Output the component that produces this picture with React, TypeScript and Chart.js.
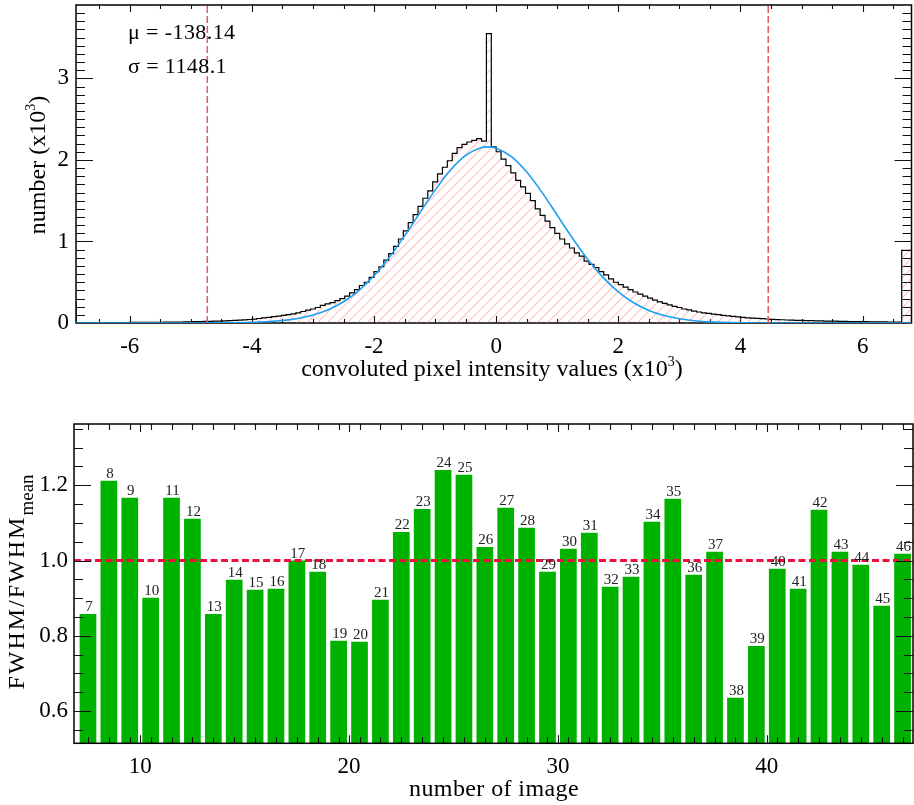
import React, { useEffect, useRef } from "react";
import { Chart, registerables } from "chart.js";
Chart.register(...registerables);

const FONT = "'Liberation Serif', 'Times New Roman', serif";

// ---------- Top panel: histogram of convoluted pixel intensities (x10^3) ----------
const histBinStart = -6.88;
const histBinWidth = 0.08;
const histCounts = [
  0.26, 0.004, 0.004, 0.004, 0.005, 0.005, 0.005, 0.005, 0.006, 0.006, 0.006,
  0.006, 0.007, 0.007, 0.007, 0.008, 0.008, 0.009, 0.009, 0.010, 0.011,
  0.011, 0.012, 0.013, 0.014, 0.016, 0.017, 0.019, 0.020, 0.022, 0.024,
  0.026, 0.029, 0.032, 0.035, 0.039, 0.043, 0.048, 0.055, 0.063, 0.070,
  0.077, 0.085, 0.093, 0.102, 0.113, 0.125, 0.141, 0.157, 0.172, 0.19,
  0.215, 0.235, 0.25, 0.275, 0.30, 0.33, 0.37, 0.41, 0.46, 0.50,
  0.56, 0.63, 0.69, 0.77, 0.85, 0.94, 1.03, 1.13, 1.23, 1.33,
  1.43, 1.53, 1.62, 1.73, 1.83, 1.91, 1.99, 2.08, 2.15, 2.19,
  2.22, 2.24, 2.26, 2.23, 3.55, 2.16, 2.10, 2.01, 1.93, 1.84,
  1.75, 1.67, 1.59, 1.50, 1.40, 1.32, 1.25, 1.17, 1.10, 1.03,
  0.97, 0.92, 0.86, 0.82, 0.76, 0.72, 0.68, 0.63, 0.59, 0.54,
  0.50, 0.47, 0.44, 0.41, 0.38, 0.355, 0.33, 0.305, 0.28, 0.26,
  0.24, 0.222, 0.205, 0.19, 0.172, 0.16, 0.146, 0.135, 0.125, 0.118,
  0.11, 0.102, 0.094, 0.087, 0.081, 0.075, 0.069, 0.064, 0.060, 0.056,
  0.053, 0.049, 0.045, 0.042, 0.040, 0.037, 0.035, 0.033, 0.031, 0.029,
  0.028, 0.027, 0.025, 0.024, 0.023, 0.022, 0.021, 0.020, 0.018, 0.017,
  0.017, 0.016, 0.015, 0.014, 0.013, 0.013, 0.012, 0.011, 0.011, 0.89,
];
const gaussX = [
  -6.88, -6, -5, -4.5, -4, -3.5, -3.25, -3, -2.75, -2.5, -2.25, -2, -1.75, -1.5,
  -1.25, -1, -0.75, -0.5, -0.25, -0.14, 0, 0.25, 0.5, 0.75, 1, 1.25, 1.5, 1.75,
  2, 2.25, 2.5, 2.75, 3, 3.25, 3.5, 4, 4.5, 5, 6, 6.8,
];
const gaussY = [
  0, 0, 0.0003, 0.0016, 0.0075, 0.030, 0.055, 0.097, 0.162, 0.260, 0.398, 0.580, 0.806, 1.069,
  1.351, 1.630, 1.874, 2.055, 2.150, 2.160, 2.144, 2.040, 1.851, 1.602, 1.321, 1.040, 0.780, 0.559,
  0.381, 0.248, 0.154, 0.091, 0.052, 0.028, 0.014, 0.0033, 0.0006, 0.0001, 0, 0,
];
const fitMeanLabel = "μ = -138.14";
const fitSigmaLabel = "σ = 1148.1";
const cutLines = [-4.73, 4.454];
const histXRange = [-6.88, 6.80];
const histYRange = [0, 3.9];
const histXMajor = [-6, -4, -2, 0, 2, 4, 6];
const histYMajor = [0, 1, 2, 3];

// ---------- Bottom panel: FWHM / FWHM_mean per image ----------
const imageNumbers = [
  7, 8, 9, 10, 11, 12, 13, 14, 15, 16, 17, 18, 19, 20, 21, 22, 23, 24, 25, 26,
  27, 28, 29, 30, 31, 32, 33, 34, 35, 36, 37, 38, 39, 40, 41, 42, 43, 44, 45, 46,
];
const fwhmRatio = [
  0.858, 1.212, 1.167, 0.901, 1.167, 1.111, 0.858, 0.949, 0.922, 0.925, 1.000, 0.970, 0.787, 0.784, 0.896, 1.076, 1.137, 1.241, 1.228, 1.036,
  1.140, 1.087, 0.970, 1.031, 1.074, 0.930, 0.957, 1.103, 1.164, 0.962, 1.023, 0.635, 0.773, 0.978, 0.925, 1.135, 1.023, 0.989, 0.880, 1.018,
];
const meanLevel = 1.0;
const barXRange = [6.83, 47.0];
const barYRange = [0.514, 1.363];
const barXMajor = [10, 20, 30, 40];
const barYMajor = [0.6, 0.8, 1.0, 1.2];

function range(from: number, to: number, step: number) {
  const out: number[] = [];
  for (let v = from; v <= to + 1e-9; v += step) out.push(Math.round(v * 1000) / 1000);
  return out;
}

function makeHatch() {
  const c = document.createElement("canvas");
  c.width = 10;
  c.height = 10;
  const g = c.getContext("2d")!;
  g.strokeStyle = "rgba(255,110,110,0.42)";
  g.lineWidth = 1.1;
  g.beginPath();
  g.moveTo(-1, 11);
  g.lineTo(11, -1);
  g.moveTo(-1, 1);
  g.lineTo(1, -1);
  g.moveTo(9, 11);
  g.lineTo(11, 9);
  g.stroke();
  return g.createPattern(c, "repeat");
}

type TickCfg = {
  hook: "beforeDatasetsDraw" | "afterDatasetsDraw";
  xMajor: number[];
  xMinor: number[];
  yMajor: number[];
  yMinor: number[];
  xMajorLen: number;
  xMinorLen: number;
  yMajorLen: number;
  yMinorLen: number;
};

function frameTicksPlugin(cfg: TickCfg) {
  const draw = (chart: any) => {
    const { ctx, chartArea: a, scales } = chart;
    const xs = scales.x;
    const ys = scales.y;
    ctx.save();
    ctx.strokeStyle = "#111";
    ctx.lineWidth = 1.1;
    ctx.beginPath();
    const xt = (vals: number[], len: number) => {
      for (const v of vals) {
        const p = Math.round(xs.getPixelForValue(v)) + 0.5;
        if (p < a.left || p > a.right) continue;
        ctx.moveTo(p, a.bottom);
        ctx.lineTo(p, a.bottom - len);
        ctx.moveTo(p, a.top);
        ctx.lineTo(p, a.top + len);
      }
    };
    const yt = (vals: number[], len: number) => {
      for (const v of vals) {
        const p = Math.round(ys.getPixelForValue(v)) + 0.5;
        if (p < a.top || p > a.bottom) continue;
        ctx.moveTo(a.left, p);
        ctx.lineTo(a.left + len, p);
        ctx.moveTo(a.right, p);
        ctx.lineTo(a.right - len, p);
      }
    };
    xt(cfg.xMajor, cfg.xMajorLen);
    xt(cfg.xMinor, cfg.xMinorLen);
    yt(cfg.yMajor, cfg.yMajorLen);
    yt(cfg.yMinor, cfg.yMinorLen);
    ctx.stroke();
    ctx.lineWidth = 1.5;
    ctx.strokeStyle = "#000";
    ctx.strokeRect(a.left, a.top, a.right - a.left, a.bottom - a.top);
    ctx.restore();
  };
  return { id: "frameTicks", [cfg.hook]: draw } as any;
}

type Part = { t: string; size: number; dy: number; ls?: number };

function drawParts(ctx: CanvasRenderingContext2D, parts: Part[], cx: number, baseY: number, align: "center" | "left") {
  const c: any = ctx;
  let total = 0;
  for (const p of parts) {
    ctx.font = `${p.size}px ${FONT}`;
    c.letterSpacing = `${p.ls || 0}px`;
    total += ctx.measureText(p.t).width;
  }
  let x = align === "center" ? cx - total / 2 : cx;
  ctx.textAlign = "left";
  ctx.textBaseline = "alphabetic";
  for (const p of parts) {
    ctx.font = `${p.size}px ${FONT}`;
    c.letterSpacing = `${p.ls || 0}px`;
    ctx.fillText(p.t, x, baseY + p.dy);
    x += ctx.measureText(p.t).width;
  }
  c.letterSpacing = "0px";
}

function fixY(width: number) {
  return (s: any) => {
    s.width = width;
    s.paddingTop = 0;
    s.paddingBottom = 0;
  };
}
function fixX(height: number) {
  return (s: any) => {
    s.height = height;
    s.paddingLeft = 0;
    s.paddingRight = 0;
  };
}

export default function App() {
  const topRef = useRef<HTMLCanvasElement>(null);
  const botRef = useRef<HTMLCanvasElement>(null);

  useEffect(() => {
    const charts: Chart[] = [];
    const hatch = makeHatch();

    // ----- top chart -----
    const histPoints = histCounts.map((v, i) => ({ x: histBinStart + i * histBinWidth, y: v }));
    histPoints.push({ x: histBinStart + histCounts.length * histBinWidth, y: histCounts[histCounts.length - 1] });

    const topTitles = {
      id: "topTitles",
      afterDraw(chart: any) {
        const ctx = chart.ctx as CanvasRenderingContext2D;
        ctx.save();
        ctx.fillStyle = "#000";
        drawParts(ctx, [
          { t: "convoluted pixel intensity values (x10", size: 24, dy: 0 },
          { t: "3", size: 14, dy: -10 },
          { t: ")", size: 24, dy: 0 },
        ], 492, 376, "center");
        ctx.save();
        ctx.translate(45, 165);
        ctx.rotate(-Math.PI / 2);
        drawParts(ctx, [
          { t: "number (x10", size: 24, dy: 0 },
          { t: "3", size: 14, dy: -10 },
          { t: ")", size: 24, dy: 0 },
        ], 0, 0, "center");
        ctx.restore();
        drawParts(ctx, [{ t: fitMeanLabel, size: 22, dy: 0, ls: 0.4 }], 128, 39, "left");
        drawParts(ctx, [{ t: fitSigmaLabel, size: 22, dy: 0, ls: 0.4 }], 128, 72.5, "left");
        ctx.restore();
      },
    };

    const tickFont = { family: FONT, size: 23 };

    if (topRef.current) {
      charts.push(
        new Chart(topRef.current, {
          type: "line",
          data: {
            datasets: [
              ...cutLines.map((c) => ({
                data: [{ x: c, y: histYRange[0] }, { x: c, y: histYRange[1] }],
                borderColor: "#f0545c",
                borderWidth: 1.5,
                borderDash: [7, 3],
                pointRadius: 0,
                fill: false,
                order: 0,
              })),
              {
                data: gaussX.map((x, i) => ({ x, y: gaussY[i] })),
                borderColor: "#1e9ef2",
                borderWidth: 1.6,
                cubicInterpolationMode: "monotone",
                pointRadius: 0,
                fill: false,
                order: 1,
              },
              {
                data: histPoints,
                stepped: "after",
                borderColor: "#000",
                borderWidth: 1.2,
                backgroundColor: hatch as any,
                fill: "origin",
                pointRadius: 0,
                order: 2,
              },
            ] as any,
          },
          options: {
            animation: false,
            responsive: false,
            devicePixelRatio: 1,
            events: [],
            layout: { padding: { left: 0, top: 5, right: 2.5, bottom: 0 } },
            plugins: { legend: { display: false }, tooltip: { enabled: false } },
            scales: {
              x: {
                type: "linear",
                min: histXRange[0],
                max: histXRange[1],
                grid: { display: false, drawTicks: false },
                border: { display: false },
                ticks: {
                  stepSize: 2,
                  includeBounds: false,
                  autoSkip: false,
                  maxRotation: 0,
                  padding: 10,
                  color: "#000",
                  font: tickFont,
                  callback: (v: any) => String(v),
                },
                afterFit: fixX(62),
              },
              y: {
                type: "linear",
                min: histYRange[0],
                max: histYRange[1],
                grid: { display: false, drawTicks: false },
                border: { display: false },
                ticks: {
                  stepSize: 1,
                  includeBounds: false,
                  padding: 7,
                  color: "#000",
                  font: tickFont,
                  callback: (v: any) => String(v),
                },
                afterFit: fixY(76),
              },
            },
          } as any,
          plugins: [
            frameTicksPlugin({
              hook: "beforeDatasetsDraw",
              xMajor: histXMajor,
              xMinor: range(-6.5, 6.5, 0.5).filter((v) => !histXMajor.includes(v)),
              yMajor: histYMajor,
              yMinor: range(0.1, 3.8, 0.1).filter((v) => Math.abs(v - Math.round(v)) > 1e-6),
              xMajorLen: 7,
              xMinorLen: 4,
              yMajorLen: 17,
              yMinorLen: 9,
            }),
            topTitles,
          ],
        })
      );
    }

    // ----- bottom chart -----
    const barCenters = imageNumbers.map((n) => n + 0.5);
    const barLabels = {
      id: "barLabels",
      afterDatasetsDraw(chart: any) {
        const ctx = chart.ctx as CanvasRenderingContext2D;
        const meta = chart.getDatasetMeta(1);
        ctx.save();
        ctx.fillStyle = "#222";
        ctx.font = `15px ${FONT}`;
        ctx.textAlign = "center";
        ctx.textBaseline = "alphabetic";
        meta.data.forEach((el: any, i: number) => {
          ctx.fillText(String(imageNumbers[i]), el.x + 1, el.y - 3);
        });
        ctx.restore();
      },
    };
    const botTitles = {
      id: "botTitles",
      afterDraw(chart: any) {
        const ctx = chart.ctx as CanvasRenderingContext2D;
        ctx.save();
        ctx.fillStyle = "#000";
        drawParts(ctx, [{ t: "number of image", size: 24, dy: 0, ls: 0.4 }], 494, 411, "center");
        ctx.save();
        ctx.translate(24, 197);
        ctx.rotate(-Math.PI / 2);
        drawParts(ctx, [
          { t: "FWHM/FWHM", size: 24, dy: 0, ls: 2 },
          { t: "mean", size: 19, dy: 9 },
        ], 0, 0, "center");
        ctx.restore();
        ctx.restore();
      },
    };

    if (botRef.current) {
      charts.push(
        new Chart(botRef.current, {
          type: "bar",
          data: {
            datasets: [
              {
                type: "line",
                data: [{ x: barXRange[0], y: meanLevel }, { x: barXRange[1], y: meanLevel }],
                borderColor: "#ec1040",
                borderWidth: 3,
                borderDash: [7, 3.5],
                pointRadius: 0,
                fill: false,
                order: 0,
              },
              {
                type: "bar",
                data: barCenters.map((x, i) => ({ x, y: fwhmRatio[i] })),
                backgroundColor: "#00b200",
                borderWidth: 0,
                barPercentage: 0.8,
                categoryPercentage: 1,
                order: 1,
              },
            ] as any,
          },
          options: {
            animation: false,
            responsive: false,
            devicePixelRatio: 1,
            events: [],
            layout: { padding: { left: 0, top: 39, right: 1, bottom: 0 } },
            plugins: { legend: { display: false }, tooltip: { enabled: false } },
            scales: {
              x: {
                type: "linear",
                offset: false,
                min: barXRange[0],
                max: barXRange[1],
                grid: { display: false, offset: false, drawTicks: false },
                border: { display: false },
                ticks: {
                  stepSize: 10,
                  includeBounds: false,
                  autoSkip: false,
                  maxRotation: 0,
                  padding: 10,
                  color: "#000",
                  font: tickFont,
                  callback: (v: any) => String(v),
                },
                afterFit: fixX(61.7),
              },
              y: {
                type: "linear",
                min: barYRange[0],
                max: barYRange[1],
                grid: { display: false, drawTicks: false },
                border: { display: false },
                ticks: {
                  stepSize: 0.2,
                  includeBounds: false,
                  padding: 6,
                  color: "#000",
                  font: tickFont,
                  callback: (v: any) => Number(v).toFixed(1),
                },
                afterFit: fixY(74),
              },
            },
          } as any,
          plugins: [
            frameTicksPlugin({
              hook: "afterDatasetsDraw",
              xMajor: barXMajor,
              xMinor: barCenters,
              yMajor: barYMajor,
              yMinor: range(0.55, 1.35, 0.05).filter((v) => !barYMajor.some((m) => Math.abs(m - v) < 1e-6)),
              xMajorLen: 8,
              xMinorLen: 6,
              yMajorLen: 17,
              yMinorLen: 9,
            }),
            barLabels,
            botTitles,
          ],
        })
      );
    }

    return () => charts.forEach((c) => c.destroy());
  }, []);

  return (
    <div style={{ position: "fixed", left: 0, top: 0, width: 914, height: 805, background: "#fff" }}>
      <canvas
        ref={topRef}
        width={914}
        height={385}
        style={{ position: "absolute", left: 0, top: 0, width: 914, height: 385 }}
      />
      <canvas
        ref={botRef}
        width={914}
        height={420}
        style={{ position: "absolute", left: 0, top: 385, width: 914, height: 420 }}
      />
    </div>
  );
}
